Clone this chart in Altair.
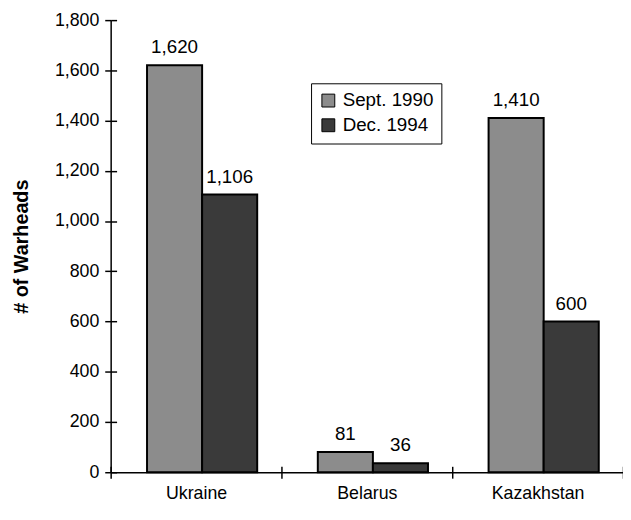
import altair as alt
import pandas as pd

countries = ["Ukraine", "Belarus", "Kazakhstan"]
periods = ["Sept. 1990", "Dec. 1994"]
sept_1990 = [1620, 81, 1410]
dec_1994 = [1106, 36, 600]
y_ticks = [0, 200, 400, 600, 800, 1000, 1200, 1400, 1600, 1800]
colors = ["#8c8c8c", "#3a3a3a"]

rows = []
for c, s, d in zip(countries, sept_1990, dec_1994):
    rows.append({"country": c, "period": periods[0], "value": s})
    rows.append({"country": c, "period": periods[1], "value": d})
df = pd.DataFrame(rows)

FONT = "Liberation Sans"

x_scale = alt.Scale(domain=countries, paddingInner=0, paddingOuter=0)
xo_scale = alt.Scale(domain=periods, paddingInner=0, paddingOuter=0.55, align=0.6)
y_scale = alt.Scale(domain=[0, 1800], nice=False)

base = alt.Chart(df)

bars = base.mark_bar(stroke="black", strokeWidth=2).encode(
    x=alt.X("country:N", sort=countries, scale=x_scale,
            axis=alt.Axis(orient="bottom", title=None, tickBand="extent", tickSize=6,
                          labelPadding=7, labelAngle=0, labelFontSize=18,
                          labelFont=FONT, labelColor="black", domainColor="black",
                          tickColor="black", domainWidth=1.5, tickWidth=1.5)),
    xOffset=alt.XOffset("period:N", sort=periods, scale=xo_scale),
    y=alt.Y("value:Q", scale=y_scale,
            axis=alt.Axis(orient="left", values=y_ticks,
                          labelExpr="format(datum.value, ',')",
                          title="# of Warheads",
                          titleFont=FONT, titleFontSize=20, titleFontWeight="bold",
                          titleColor="black", titleAngle=-90, titleX=-90, titleY=229,
                          titleAlign="center", titleBaseline="middle",
                          tickSize=6, labelPadding=6, labelFontSize=18, labelFont=FONT,
                          labelColor="black", domainColor="black", tickColor="black",
                          domainWidth=1.5, tickWidth=1.5, grid=False)),
    color=alt.Color("period:N", sort=periods,
                    scale=alt.Scale(domain=periods, range=colors),
                    legend=alt.Legend(orient="none", legendX=203, legendY=64, title=None,
                                      strokeColor="black", fillColor="white", padding=8,
                                      symbolType="square", symbolSize=170,
                                      symbolStrokeColor="black", symbolStrokeWidth=1,
                                      labelFont=FONT, labelFontSize=19, labelColor="black",
                                      rowPadding=5, labelOffset=5)),
)

labels = base.mark_text(font=FONT, fontSize=19, color="black", baseline="alphabetic", dy=-12).encode(
    x=alt.X("country:N", sort=countries, scale=x_scale,
            axis=alt.Axis(orient="bottom", title=None, tickBand="extent", tickSize=6,
                          offset=-6, labels=False, domain=False, tickColor="black",
                          tickWidth=1.5)),
    xOffset=alt.XOffset("period:N", sort=periods, scale=xo_scale),
    y=alt.Y("value:Q", scale=y_scale,
            axis=alt.Axis(orient="left", values=y_ticks, title=None, tickSize=6,
                          offset=-6, labels=False, domain=False, tickColor="black",
                          tickWidth=1.5, grid=False)),
    text=alt.Text("value:Q", format=","),
)

chart = alt.layer(bars, labels).resolve_axis(x="independent", y="independent").properties(
    width=519,
    height=458,
    autosize=alt.AutoSizeParams(type="none"),
    padding={"left": 104, "top": 9, "right": 0, "bottom": 37},
    background="white",
).configure_view(stroke=None)

chart.save("out.html", embed_options={"renderer": "svg", "actions": False})
